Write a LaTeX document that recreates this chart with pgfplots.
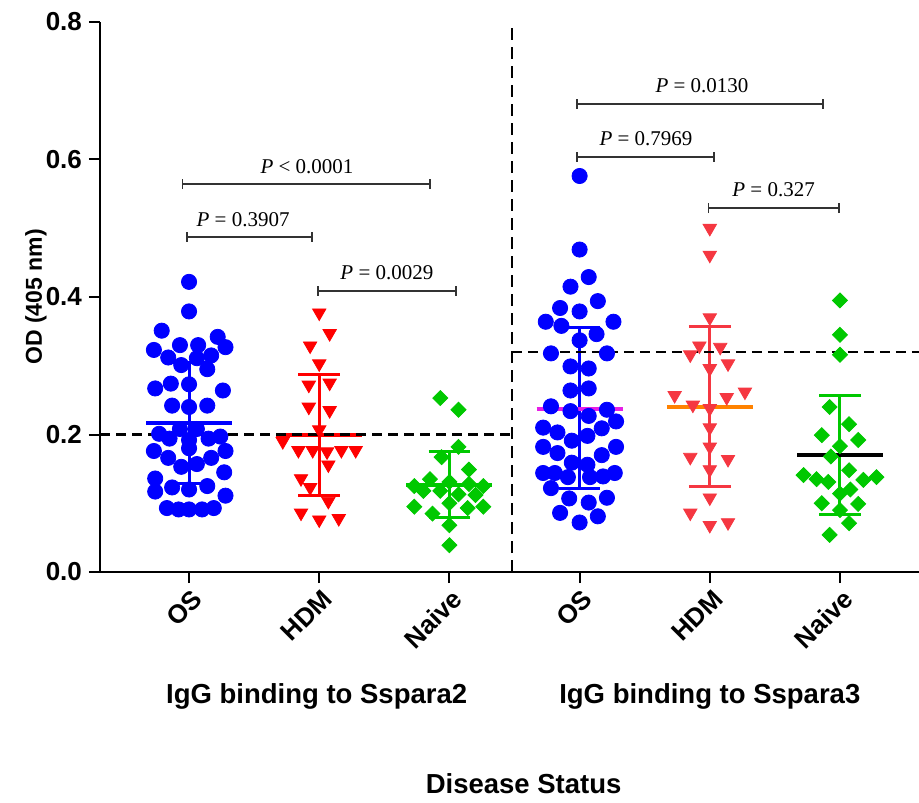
\documentclass[border=0pt]{standalone}
\usepackage{fontspec}
\setmainfont{Liberation Sans}
\newfontfamily\pfont{Liberation Serif}
\usepackage{pgfplots}
\pgfplotsset{compat=1.18}

\definecolor{gblue}{RGB}{0,0,255}
\definecolor{gred}{RGB}{255,0,0}
\definecolor{gredb}{RGB}{245,55,65}
\definecolor{ggreen}{RGB}{0,200,0}
\definecolor{gmag}{RGB}{230,30,230}
\definecolor{gorange}{RGB}{255,130,0}

\begin{document}
\begin{tikzpicture}
\begin{axis}[
  scale only axis,
  width=409.5pt, height=275pt,
  xmin=0.316, xmax=6.607,
  ymin=0, ymax=0.8,
  axis x line=bottom, axis y line=left,
  axis line style={-, line width=1pt},
  tick align=outside,
  major tick length=5.5pt,
  tick style={line width=1pt, black},
  clip=false,
  ytick={0,0.2,0.4,0.6,0.8},
  yticklabel style={/pgf/number format/.cd, fixed, fixed zerofill, precision=1, assume math mode=true},
  xtick={1,2,3,4,5,6},
  xticklabels={OS,HDM,Naive,OS,HDM,Naive},
  xticklabel style={rotate=45, anchor=east, inner sep=1pt, yshift=-7pt},
  ticklabel style={font=\bfseries\fontsize{13}{15}\selectfont},
]
\coordinate (bl) at (rel axis cs:0,0);
\coordinate (tr) at (rel axis cs:1,1);

% OS, Sspara2
\addplot[only marks, mark=*, mark size=3.8pt, gblue] coordinates {
  (1,0.422) (1,0.379) (0.79,0.351) (1.22,0.342) (0.93,0.330) (1.07,0.330)
  (1.28,0.327) (0.73,0.323) (0.84,0.312) (1.17,0.315) (1.06,0.311) (0.94,0.301)
  (1.14,0.295) (0.74,0.267) (0.86,0.274) (1,0.273) (1.26,0.264) (0.87,0.242)
  (1,0.240) (1.14,0.242) (0.77,0.201) (0.93,0.208) (1.06,0.208) (1.24,0.197)
  (0.85,0.194) (1,0.192) (1.15,0.194) (1,0.180) (0.73,0.176) (1.28,0.176)
  (0.84,0.166) (1.17,0.166) (0.94,0.153) (1.06,0.157) (0.74,0.136) (1.27,0.145)
  (0.87,0.123) (1,0.120) (1.14,0.125) (0.74,0.117) (1.28,0.111) (0.83,0.093)
  (0.92,0.091) (1,0.091) (1.1,0.091) (1.19,0.093)
};
% HDM, Sspara2
\addplot[only marks, mark=triangle*, mark size=3.85pt, gred, mark options={rotate=180}] coordinates {
  (2,0.377) (2.08,0.347) (1.93,0.329) (2,0.303) (1.92,0.272) (2.08,0.275)
  (1.92,0.240) (2.08,0.235) (2,0.207) (1.72,0.190) (1.84,0.177) (1.95,0.177)
  (2.06,0.175) (2.17,0.177) (2.28,0.177) (2.07,0.156) (1.86,0.136) (1.93,0.123)
  (2.07,0.103) (1.86,0.086) (2,0.076) (2.15,0.078)
};
% Naive, Sspara2
\addplot[only marks, mark=square*, mark size=2.65pt, ggreen, mark options={rotate=45}] coordinates {
  (2.93,0.253) (3.07,0.236) (3.07,0.182) (2.94,0.167) (3.15,0.149) (2.85,0.135)
  (2.73,0.125) (3,0.131) (3.26,0.125) (3.15,0.128) (2.93,0.118) (3.07,0.113)
  (2.8,0.118) (3.2,0.112) (2.73,0.095) (2.87,0.085) (3.14,0.093) (3.26,0.095)
  (3,0.100) (3,0.068) (3,0.039)
};
% OS, Sspara3
\addplot[only marks, mark=*, mark size=3.8pt, gblue] coordinates {
  (4,0.576) (4,0.469) (4.07,0.429) (3.93,0.415) (4.14,0.394) (3.85,0.384)
  (4,0.379) (3.74,0.364) (4.26,0.364) (3.86,0.358) (4.13,0.346) (4,0.337)
  (3.78,0.318) (4.21,0.318) (3.93,0.299) (4.07,0.296) (3.93,0.264) (4.07,0.267)
  (3.78,0.241) (3.93,0.234) (4.07,0.227) (4.21,0.236) (4.28,0.219) (3.72,0.210)
  (3.83,0.203) (4.17,0.209) (4.06,0.198) (3.94,0.191) (3.72,0.182) (4.28,0.182)
  (3.83,0.173) (4.17,0.170) (3.94,0.159) (4.06,0.156) (3.72,0.144) (3.81,0.144)
  (3.91,0.138) (4.08,0.138) (4.18,0.139) (4.27,0.144) (3.78,0.122) (3.92,0.107)
  (4.07,0.101) (4.21,0.108) (3.85,0.086) (4.14,0.081) (4,0.072)
};
% HDM, Sspara3
\addplot[only marks, mark=triangle*, mark size=3.85pt, gredb, mark options={rotate=180}] coordinates {
  (5,0.500) (5,0.461) (5,0.370) (4.92,0.329) (5.08,0.327) (4.85,0.316)
  (5.14,0.303) (5,0.296) (4.73,0.257) (5.27,0.262) (5.13,0.254) (4.87,0.243)
  (5,0.238) (5,0.210) (5,0.182) (4.85,0.167) (5.14,0.164) (5,0.149)
  (5,0.108) (4.85,0.086) (5,0.068) (5.14,0.072)
};
% Naive, Sspara3
\addplot[only marks, mark=square*, mark size=2.65pt, ggreen, mark options={rotate=45}] coordinates {
  (6,0.395) (6,0.345) (6,0.316) (5.92,0.240) (6.07,0.215) (5.86,0.199)
  (6.14,0.192) (6,0.183) (5.93,0.168) (6.07,0.148) (5.72,0.141) (5.82,0.135)
  (5.91,0.131) (6.18,0.134) (6.28,0.138) (6.08,0.120) (6,0.114) (5.86,0.100)
  (6.14,0.099) (6,0.090) (6.07,0.071) (5.92,0.054)
};

% mean +- SD
\addplot[gblue, line width=1.5pt, unbounded coords=jump] coordinates {
  (1,0.129) (1,0.305) (nan,nan) (0.84,0.305) (1.16,0.305) (nan,nan) (0.84,0.129) (1.16,0.129)
  (nan,nan) (4,0.122) (4,0.355) (nan,nan) (3.84,0.355) (4.16,0.355) (nan,nan) (3.84,0.122) (4.16,0.122)
};
\addplot[gred, line width=1.5pt, unbounded coords=jump] coordinates {
  (2,0.112) (2,0.287) (nan,nan) (1.84,0.287) (2.16,0.287) (nan,nan) (1.84,0.112) (2.16,0.112)
};
\addplot[gredb, line width=1.5pt, unbounded coords=jump] coordinates {
  (5,0.125) (5,0.357) (nan,nan) (4.84,0.357) (5.16,0.357) (nan,nan) (4.84,0.125) (5.16,0.125)
};
\addplot[ggreen, line width=1.5pt, unbounded coords=jump] coordinates {
  (3,0.079) (3,0.176) (nan,nan) (2.84,0.176) (3.16,0.176) (nan,nan) (2.84,0.079) (3.16,0.079)
  (nan,nan) (6,0.083) (6,0.257) (nan,nan) (5.84,0.257) (6.16,0.257) (nan,nan) (5.84,0.083) (6.16,0.083)
};
\addplot[gblue, line width=2pt] coordinates {(0.67,0.217) (1.33,0.217)};
\addplot[gred, line width=2pt] coordinates {(1.67,0.200) (2.33,0.200)};
\addplot[ggreen, line width=2pt] coordinates {(2.67,0.126) (3.33,0.126)};
\addplot[gmag, line width=2pt] coordinates {(3.67,0.237) (4.33,0.237)};
\addplot[gorange, line width=2pt] coordinates {(4.67,0.240) (5.33,0.240)};
\addplot[black, line width=2pt] coordinates {(5.67,0.170) (6.33,0.170)};

% cut-off lines
\addplot[black, line width=1.3pt, dash pattern=on 5pt off 3pt] coordinates {(0.316,0.2) (3.48,0.2)};
\addplot[black, line width=1.3pt, dash pattern=on 5pt off 3pt] coordinates {(3.48,0.32) (6.607,0.32)};
\addplot[black, line width=1.3pt, dash pattern=on 6pt off 3.5pt] coordinates {(3.48,0) (3.48,0.8)};

% P-value brackets
\addplot[black!80, line width=0.9pt, unbounded coords=jump] coordinates {
  (0.95,0.557) (0.95,0.571) (nan,nan) (0.95,0.564) (2.85,0.564) (nan,nan) (2.85,0.557) (2.85,0.571)
  (nan,nan) (0.985,0.480) (0.985,0.494) (nan,nan) (0.985,0.487) (1.945,0.487) (nan,nan) (1.945,0.480) (1.945,0.494)
  (nan,nan) (1.99,0.402) (1.99,0.416) (nan,nan) (1.99,0.409) (3.05,0.409) (nan,nan) (3.05,0.402) (3.05,0.416)
  (nan,nan) (3.98,0.674) (3.98,0.688) (nan,nan) (3.98,0.681) (5.87,0.681) (nan,nan) (5.87,0.674) (5.87,0.688)
  (nan,nan) (3.98,0.597) (3.98,0.611) (nan,nan) (3.98,0.604) (5.03,0.604) (nan,nan) (5.03,0.597) (5.03,0.611)
  (nan,nan) (4.99,0.522) (4.99,0.536) (nan,nan) (4.99,0.530) (5.99,0.530) (nan,nan) (5.99,0.522) (5.99,0.536)
};
\begin{scope}[every node/.style={font=\pfont\fontsize{10.5}{12}\selectfont, anchor=base, yshift=5.5pt}]
  \node at (axis cs:1.906,0.564) {\textit{P} < 0.0001};
  \node at (axis cs:1.415,0.487) {\textit{P} = 0.3907};
  \node at (axis cs:2.52,0.409) {\textit{P} = 0.0029};
  \node at (axis cs:4.94,0.681) {\textit{P} = 0.0130};
  \node at (axis cs:4.51,0.604) {\textit{P} = 0.7969};
  \node at (axis cs:5.49,0.530) {\textit{P} = 0.327};
\end{scope}

\begin{scope}[every node/.style={font=\bfseries\fontsize{13.75}{16}\selectfont}]
  \node at (axis cs:1.98,0) [yshift=-62pt] {IgG binding to Sspara2};
  \node at (axis cs:5.0,0) [yshift=-62pt] {IgG binding to Sspara3};
  \node at (axis cs:3.57,0) [yshift=-106pt] {Disease Status};
\end{scope}
\node[font=\bfseries\fontsize{11.5}{13}\selectfont, rotate=90] at ([xshift=-32pt]rel axis cs:0,0.5) {OD (405 nm)};
\end{axis}
\pgfresetboundingbox
\path ([shift={(-50pt,-115pt)}]bl) rectangle ([shift={(0pt,11pt)}]tr);
\end{tikzpicture}
\end{document}
